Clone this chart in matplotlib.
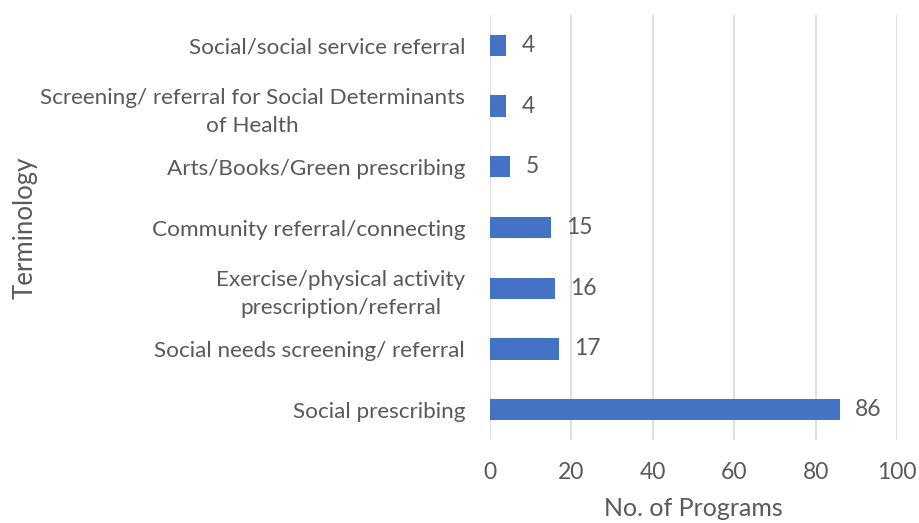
import matplotlib
matplotlib.use('Agg')
import matplotlib.pyplot as plt

# Terminology categories, listed bottom to top as drawn on the y axis
terms = [
    'Social prescribing',
    'Social needs screening/ referral',
    'Exercise/physical activity\nprescription/referral',
    'Community referral/connecting',
    'Arts/Books/Green prescribing',
    'Screening/ referral for Social Determinants\nof Health',
    'Social/social service referral',
]
programs = [86, 17, 16, 15, 5, 4, 4]
x_ticks = [0, 20, 40, 60, 80, 100]

text_color = '#595959'
bar_color = '#4472C4'
grid_color = '#D9D9D9'

plt.rcParams['font.family'] = ['Lato', 'DejaVu Sans']

fig = plt.figure(figsize=(9.19, 5.23), dpi=100)
ax = fig.add_axes([0.5332, 0.1587, 0.4429, 0.8126])

ypos = list(range(len(terms)))
bars = ax.barh(ypos, programs, height=0.35, color=bar_color, zorder=3)

for y, v in zip(ypos, programs):
    ax.annotate(str(v), xy=(v, y), xytext=(11, 0), textcoords='offset points',
                ha='left', va='center', fontsize=16.5, color=text_color)

ax.set_xlim(0, 100)
ax.set_ylim(-0.5, len(terms) - 0.5)
ax.set_xticks(x_ticks)
ax.set_xticklabels([str(t) for t in x_ticks], fontsize=16.5, color=text_color)
ax.set_yticks(ypos)
ax.set_yticklabels(terms, fontsize=16.2, color=text_color, ha='right',
                   multialignment='center', linespacing=1.5)

ax.tick_params(axis='x', length=0, pad=16)
ax.tick_params(axis='y', length=0, pad=18)

ax.grid(axis='x', color=grid_color, linewidth=1.2, zorder=0)
for s in ax.spines.values():
    s.set_visible(False)

ax.set_xlabel('No. of Programs', fontsize=18, color=text_color, labelpad=10)
ax.set_ylabel('Terminology', fontsize=18.5, color=text_color)
ax.yaxis.set_label_coords(-1.112, 0.5)

fig.savefig('out.png', dpi=100)
